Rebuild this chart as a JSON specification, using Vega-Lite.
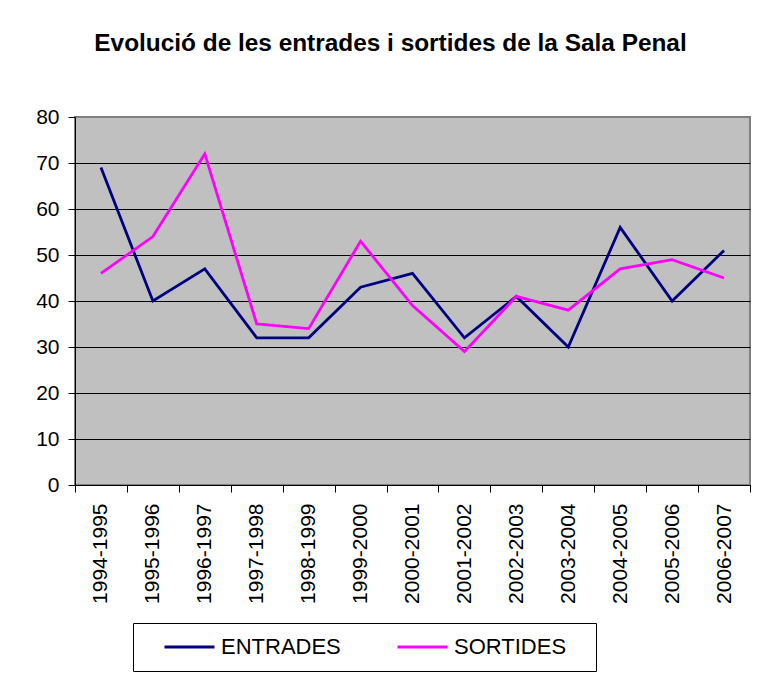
{
  "$schema": "https://vega.github.io/schema/vega-lite/v6.json",
  "autosize": "none",
  "width": 675,
  "height": 368,
  "padding": {"left": 75, "top": 117, "right": 29, "bottom": 194},
  "background": "white",
  "title": {
    "text": "Evolució de les entrades i sortides de la Sala Penal",
    "font": "Liberation Sans",
    "fontSize": 24.4,
    "fontWeight": "bold",
    "color": "black",
    "anchor": "middle",
    "frame": "group",
    "baseline": "alphabetic",
    "offset": 31,
    "dx": -22
  },
  "data": {
    "values": [
      {"periode": "1994-1995", "serie": "ENTRADES", "valor": 69},
      {"periode": "1995-1996", "serie": "ENTRADES", "valor": 40},
      {"periode": "1996-1997", "serie": "ENTRADES", "valor": 47},
      {"periode": "1997-1998", "serie": "ENTRADES", "valor": 32},
      {"periode": "1998-1999", "serie": "ENTRADES", "valor": 32},
      {"periode": "1999-2000", "serie": "ENTRADES", "valor": 43},
      {"periode": "2000-2001", "serie": "ENTRADES", "valor": 46},
      {"periode": "2001-2002", "serie": "ENTRADES", "valor": 32},
      {"periode": "2002-2003", "serie": "ENTRADES", "valor": 41},
      {"periode": "2003-2004", "serie": "ENTRADES", "valor": 30},
      {"periode": "2004-2005", "serie": "ENTRADES", "valor": 56},
      {"periode": "2005-2006", "serie": "ENTRADES", "valor": 40},
      {"periode": "2006-2007", "serie": "ENTRADES", "valor": 51},
      {"periode": "1994-1995", "serie": "SORTIDES", "valor": 46},
      {"periode": "1995-1996", "serie": "SORTIDES", "valor": 54},
      {"periode": "1996-1997", "serie": "SORTIDES", "valor": 72},
      {"periode": "1997-1998", "serie": "SORTIDES", "valor": 35},
      {"periode": "1998-1999", "serie": "SORTIDES", "valor": 34},
      {"periode": "1999-2000", "serie": "SORTIDES", "valor": 53},
      {"periode": "2000-2001", "serie": "SORTIDES", "valor": 39},
      {"periode": "2001-2002", "serie": "SORTIDES", "valor": 29},
      {"periode": "2002-2003", "serie": "SORTIDES", "valor": 41},
      {"periode": "2003-2004", "serie": "SORTIDES", "valor": 38},
      {"periode": "2004-2005", "serie": "SORTIDES", "valor": 47},
      {"periode": "2005-2006", "serie": "SORTIDES", "valor": 49},
      {"periode": "2006-2007", "serie": "SORTIDES", "valor": 45}
    ]
  },
  "mark": {"type": "line", "strokeWidth": 2.8},
  "encoding": {
    "x": {
      "field": "periode",
      "type": "nominal",
      "sort": null,
      "bandPosition": 0.5,
      "scale": {"type": "band", "paddingInner": 0, "paddingOuter": 0},
      "axis": {
        "title": null,
        "labelAngle": 270,
        "labelFont": "Liberation Sans",
        "labelFontSize": 21,
        "labelColor": "black",
        "tickColor": "black",
        "domainColor": "black",
        "tickSize": 7,
        "labelPadding": 11,
        "tickBand": "extent",
        "grid": false
      }
    },
    "y": {
      "field": "valor",
      "type": "quantitative",
      "scale": {"domain": [0, 80], "nice": false},
      "axis": {
        "title": null,
        "values": [0, 10, 20, 30, 40, 50, 60, 70, 80],
        "labelFont": "Liberation Sans",
        "labelFontSize": 21,
        "labelColor": "black",
        "tickColor": "black",
        "domainColor": "black",
        "tickSize": 7,
        "labelPadding": 9,
        "grid": true,
        "gridColor": {"condition": {"test": "datum.value == 80", "value": "#808080"}, "value": "black"},
        "gridOpacity": 1
      }
    },
    "color": {
      "field": "serie",
      "type": "nominal",
      "scale": {"domain": ["ENTRADES", "SORTIDES"], "range": ["#000080", "#FF00FF"]},
      "legend": {
        "orient": "none",
        "legendX": 58,
        "legendY": 506,
        "direction": "horizontal",
        "title": "\u00a0",
        "titleOrient": "right",
        "titleFont": "Liberation Sans",
        "titleFontSize": 22,
        "titlePadding": 17,
        "strokeColor": "black",
        "fillColor": "white",
        "padding": 13,
        "symbolType": "stroke",
        "symbolSize": 2500,
        "symbolStrokeWidth": 2.8,
        "symbolOffset": 17,
        "clipHeight": 22,
        "labelFont": "Liberation Sans",
        "labelFontSize": 22,
        "labelColor": "black",
        "labelOffset": 5,
        "columnPadding": 38
      }
    }
  },
  "config": {
    "view": {"fill": "#C0C0C0", "stroke": "#808080", "strokeWidth": 2}
  }
}
